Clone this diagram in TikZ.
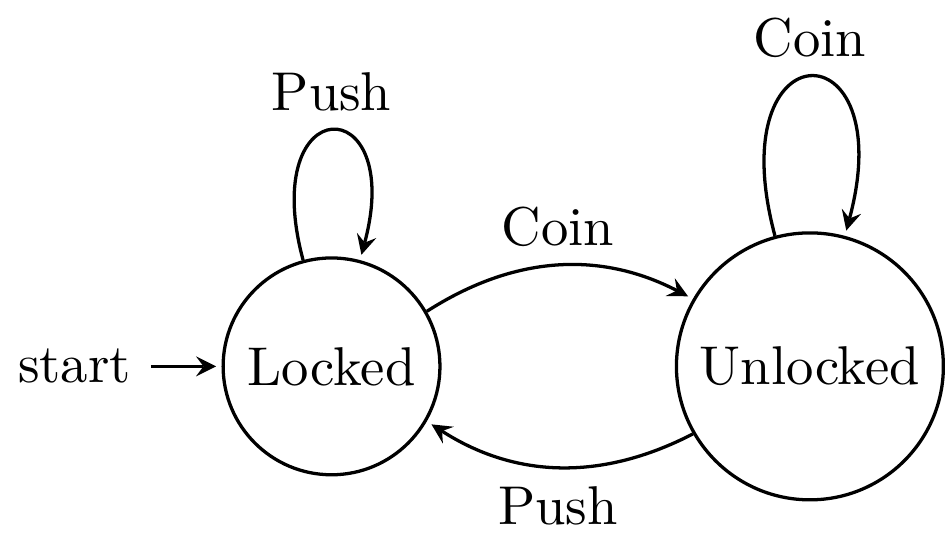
\documentclass[tikz,border=0pt]{standalone}
\usetikzlibrary{automata,positioning,arrows}
\begin{document}
\begin{tikzpicture}[>=stealth, semithick, shorten >=1pt, node distance=1.5cm,
  every state/.style={draw, circle}]
  \node[state, initial] (L) {Locked};
  \node[state, right=of L] (U) {Unlocked};
  \path[->] (L) edge[bend left] node[above] (c1) {Coin} (U)
            (U) edge[bend left] node[below] (p1) {Push} (L)
            (L) edge[loop above] node[above] (p2) {Push} (L)
            (U) edge[loop above] node[above] (c2) {Coin} (U);
\end{tikzpicture}
\end{document}
